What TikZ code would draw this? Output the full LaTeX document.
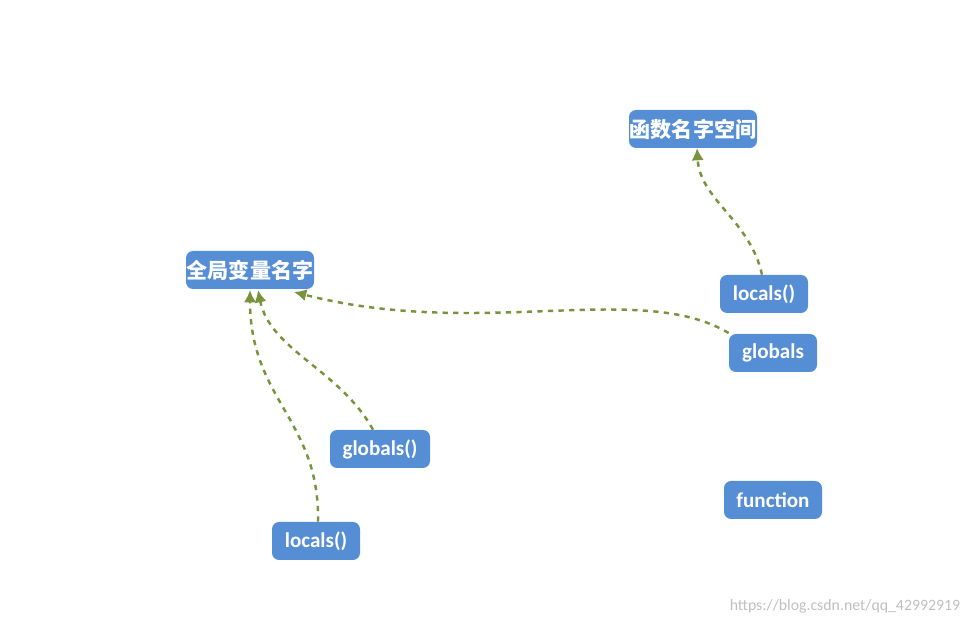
\documentclass[tikz,border=0pt]{standalone}
\usepackage{fontspec}
\setmainfont{Carlito}
\newfontfamily\cjk{Noto Sans CJK SC}
\usetikzlibrary{arrows.meta}
\definecolor{boxblue}{HTML}{558ED5}
\definecolor{olive}{HTML}{77933C}
\tikzset{
  box/.style={fill=boxblue, rounded corners=4pt, text=white, font=\bfseries\large,
    minimum height=38*0.02cm, inner sep=0pt},
  link/.style={olive, dashed, line width=1.4pt, -{Latex[length=7pt,width=7pt]}}
}
\begin{document}
\begin{tikzpicture}[x=0.02cm,y=-0.02cm]
\useasboundingbox (0,0) rectangle (975,624);

\node[box, minimum width=128*0.02cm] (fns) at (693,129) {\cjk 函数名字空间};
\node[box, minimum width=128*0.02cm] (glob) at (250,270) {\cjk 全局变量名字};
\node[box, minimum width=88*0.02cm] (flocals) at (764,294) {locals()};
\node[box, minimum width=88*0.02cm] (fglobals) at (773,353) {globals};
\node[box, minimum width=100*0.02cm] (mglobals) at (380,449) {globals()};
\node[box, minimum width=88*0.02cm] (mlocals) at (316,541) {locals()};
\node[box, minimum width=98*0.02cm] (func) at (773,500) {function};

\draw[link] (flocals.north) ++(-2,0) .. controls (750,220) and (700,200) .. (697,148);
\draw[link] (fglobals.west) ++(0,-20) .. controls (640,280) and (480,340) .. (294,292);
\draw[link] (mglobals.north) ++(-7,0) .. controls (340,370) and (270,350) .. (258,290);
\draw[link] (mlocals.north) ++(2,0) .. controls (320,420) and (250,400) .. (250,290);

\node[text=gray!50, font=\small] (mark) at (845,606) {https://blog.csdn.net/qq\_42992919};
\end{tikzpicture}
\end{document}
